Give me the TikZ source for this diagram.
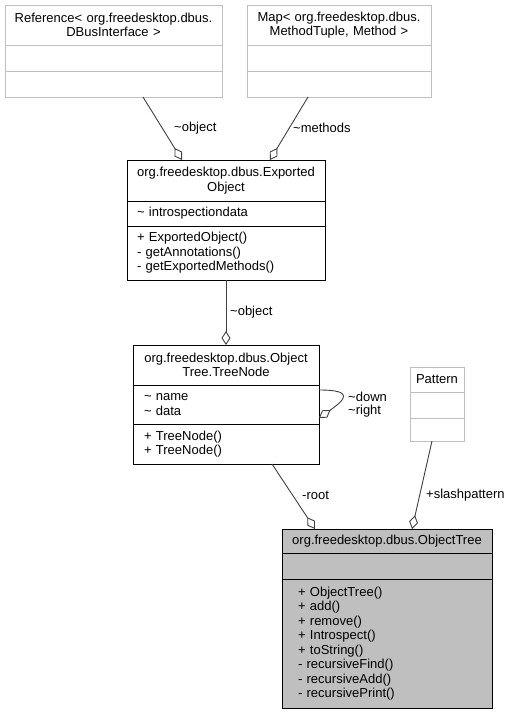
\documentclass[tikz,border=0pt]{standalone}
\usepackage{fontspec}
\setmainfont{Liberation Sans}
\usetikzlibrary{arrows.meta}
\definecolor{line_gray}{RGB}{191,191,191}
\definecolor{fill_gray}{RGB}{191,191,191}
\definecolor{edge_gray}{RGB}{64,64,64}
\newcommand\umlfont{\fontsize{13pt}{14.5pt}\selectfont}
\newcommand\tld{\textasciitilde}

\begin{document}
\begin{tikzpicture}[x=1pt,y=-1pt]
    \tikzstyle{part}=[rectangle, anchor=north west, inner xsep=5pt, inner ysep=0pt, outer sep=0pt, line width=1pt, font=\umlfont, text=black]
    \tikzstyle{grey}=[style=part, draw=line_gray, fill=white, align=center]
    \tikzstyle{head}=[style=part, draw=black, fill=white, align=center]
    \tikzstyle{body}=[style=part, draw=black, fill=white, align=left]
    \tikzstyle{mainhead}=[style=head, fill=fill_gray]
    \tikzstyle{mainbody}=[style=body, fill=fill_gray]
    \tikzstyle{conn}=[draw=edge_gray, line width=0.9pt]
    \tikzstyle{agg}=[-{Diamond[fill=white,length=14pt,width=9pt]}]
    \tikzstyle{lbl}=[font=\umlfont, anchor=west, inner sep=0pt]

    \useasboundingbox (0,0) rectangle (510,713);

    % Reference< DBusInterface >
    \node[grey, minimum width=217pt, text width=207pt, minimum height=40pt] (reft) at (5,5) {Reference< org.freedesktop.dbus.\\DBusInterface >};
    \node[grey, minimum width=217pt, minimum height=26pt] (refa) at (5,45) {};
    \node[grey, minimum width=217pt, minimum height=26pt] (refm) at (5,71) {};

    % Map< MethodTuple, Method >
    \node[grey, minimum width=184pt, text width=174pt, minimum height=40pt] (mapt) at (247,5) {Map< org.freedesktop.dbus.\\MethodTuple, Method >};
    \node[grey, minimum width=184pt, minimum height=26pt] (mapa) at (247,45) {};
    \node[grey, minimum width=184pt, minimum height=26pt] (mapm) at (247,71) {};

    % ExportedObject
    \node[head, minimum width=198pt, text width=188pt, minimum height=41pt] (expt) at (127,160) {org.freedesktop.dbus.Exported\\Object};
    \node[body, minimum width=198pt, inner xsep=10pt, text width=178pt, minimum height=25pt] (expa) at (127,201) {\tld{} introspectiondata};
    \node[body, minimum width=198pt, inner xsep=10pt, text width=178pt, minimum height=54pt] (expm) at (127,226) {+ ExportedObject()\\- getAnnotations()\\- getExportedMethods()};

    % ObjectTree.TreeNode
    \node[head, minimum width=186pt, text width=176pt, minimum height=40pt] (treet) at (133,345) {org.freedesktop.dbus.Object\\Tree.TreeNode};
    \node[body, minimum width=186pt, inner xsep=11pt, text width=164pt, minimum height=39pt] (treea) at (133,385) {\tld{} name\\\tld{} data};
    \node[body, minimum width=186pt, inner xsep=11pt, text width=164pt, minimum height=40pt] (treem) at (133,424) {+ TreeNode()\\+ TreeNode()};

    % Pattern
    \node[grey, minimum width=54pt, minimum height=25pt] (patt) at (410,367) {Pattern};
    \node[grey, minimum width=54pt, minimum height=26pt] (pata) at (410,392) {};
    \node[grey, minimum width=54pt, minimum height=23pt] (patm) at (410,418) {};

    % ObjectTree
    \node[mainhead, minimum width=210pt, text width=200pt, minimum height=24pt] (objt) at (282,529) {org.freedesktop.dbus.ObjectTree};
    \node[mainbody, minimum width=210pt, minimum height=26pt] (obja) at (282,553) {};
    \node[mainbody, minimum width=210pt, inner xsep=16pt, text width=178pt, minimum height=129pt] (objm) at (282,579) {+ ObjectTree()\\+ add()\\+ remove()\\+ Introspect()\\+ toString()\\- recursiveFind()\\- recursiveAdd()\\- recursivePrint()};

    \path[conn]
     ([xshift=29.5pt]refm.south) edge[agg] ([xshift=-44pt]expt.north)
     ([xshift=-31pt]mapm.south) edge[agg] ([xshift=44pt]expt.north)
     (expm.south) edge[agg] (treet.north)
     ([xshift=46pt]treem.south) edge[agg] ([xshift=-72pt]objt.north)
     ([xshift=-5pt]patm.south) edge[agg] ([xshift=25pt]objt.north)
     ;
    \draw[conn, agg] ([yshift=14.5pt]treea.east) .. controls +(35,0) and +(27,-19) .. ([yshift=-13.5pt]treea.east);

    \node[lbl] (l1) at (174,128) {\tld object};
    \node[lbl] (l2) at (293,128) {\tld methods};
    \node[lbl] (l3) at (230,312) {\tld object};
    \node[lbl] (l4) at (348,397) {\tld down};
    \node[lbl] (l5) at (348,411) {\tld right};
    \node[lbl] (l6) at (302,495) {-root};
    \node[lbl] (l7) at (426,495) {+slashpattern};
  \end{tikzpicture}
\end{document}
